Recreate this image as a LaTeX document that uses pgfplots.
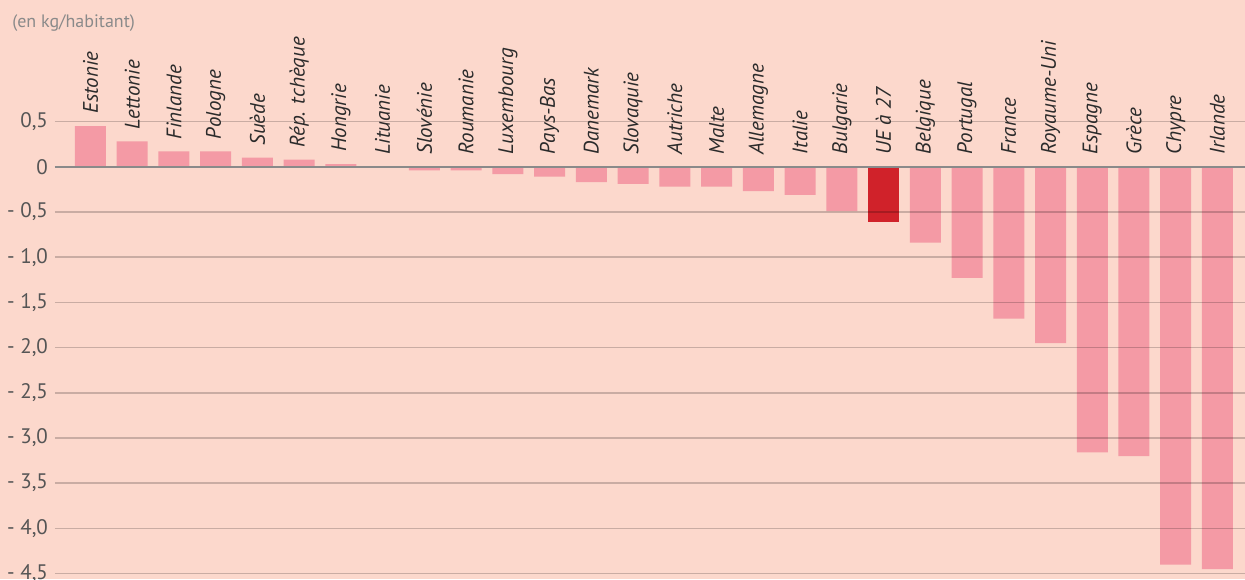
\documentclass[border=0pt]{standalone}
\usepackage{fontspec}
\setmainfont{PT Sans}
\usepackage{pgfplots}
\pgfplotsset{compat=1.18}

\definecolor{bgpink}{HTML}{FCD8CC}
\definecolor{barpink}{HTML}{F49AA5}
\definecolor{barred}{HTML}{D0222A}
\definecolor{tickgray}{HTML}{555555}
\definecolor{zerogray}{HTML}{8A8A8A}
\definecolor{labelgray}{HTML}{2B2B2B}

\begin{document}
\begin{tikzpicture}
% page background, also fixes the picture size
\path[fill=bgpink, use as bounding box] (0,0) rectangle (622.5pt,289.5pt);

\begin{axis}[
    at={(27.5pt,0pt)}, anchor=south west,
    scale only axis,
    width=595pt, height=289.5pt,
    xmin=-0.85, xmax=27.66,
    ymin=-4.56, ymax=1.845,
    axis line style={draw=none},
    xtick=\empty,
    ytick={-4.5,-4,-3.5,-3,-2.5,-2,-1.5,-1,-0.5,0,0.5},
    yticklabels={{- 4,5},{- 4,0},{- 3,5},{- 3,0},{- 2,5},{- 2,0},{- 1,5},{- 1,0},{- 0,5},{0},{0,5}},
    yticklabel style={font=\fontsize{10.5}{12}\selectfont, text=tickgray},
    major tick length=0pt,
    ymajorgrids,
    major grid style={black, opacity=0.2, line width=0.75pt},
    extra y ticks={0},
    extra y tick labels={},
    extra y tick style={major grid style={zerogray, opacity=1, line width=1pt}},
    axis on top,
    clip=false,
]

% countries
\addplot[ybar, bar width=15.5pt, fill=barpink, draw=none] coordinates {
    (0,0.45) (1,0.28) (2,0.17) (3,0.17) (4,0.10) (5,0.08) (6,0.03)
    (7,-0.005) (8,-0.04) (9,-0.04) (10,-0.08) (11,-0.11) (12,-0.17)
    (13,-0.19) (14,-0.22) (15,-0.22) (16,-0.27) (17,-0.31) (18,-0.49)
    (20,-0.84) (21,-1.23) (22,-1.68) (23,-1.95) (24,-3.16) (25,-3.20)
    (26,-4.40) (27,-4.45)
};
% EU average
\addplot[ybar, bar width=15.5pt, fill=barred, draw=none] coordinates {
    (19,-0.61)
};

% names above the bars (at the bar top, or at 0 for negative bars)
\addplot[draw=none, mark=none,
    nodes near coords,
    point meta=explicit symbolic,
    nodes near coords style={rotate=90, anchor=west, inner xsep=6pt, inner ysep=0pt,
        font=\fontsize{10.5}{12}\selectfont\itshape, text=labelgray},
] coordinates {
    (0,0.45) [Estonie]
    (1,0.28) [Lettonie]
    (2,0.17) [Finlande]
    (3,0.17) [Pologne]
    (4,0.10) [Suède]
    (5,0.08) [Rép. tchèque]
    (6,0.03) [Hongrie]
    (7,0) [Lituanie]
    (8,0) [Slovénie]
    (9,0) [Roumanie]
    (10,0) [Luxembourg]
    (11,0) [Pays-Bas]
    (12,0) [Danemark]
    (13,0) [Slovaquie]
    (14,0) [Autriche]
    (15,0) [Malte]
    (16,0) [Allemagne]
    (17,0) [Italie]
    (18,0) [Bulgarie]
    (19,0) [UE à 27]
    (20,0) [Belgique]
    (21,0) [Portugal]
    (22,0) [France]
    (23,0) [Royaume-Uni]
    (24,0) [Espagne]
    (25,0) [Grèce]
    (26,0) [Chypre]
    (27,0) [Irlande]
};
\end{axis}

\node[anchor=west, inner sep=0pt, text=zerogray, font=\fontsize{9}{11}\selectfont]
    at (6pt,278pt) {(en kg/habitant)};
\end{tikzpicture}
\end{document}
